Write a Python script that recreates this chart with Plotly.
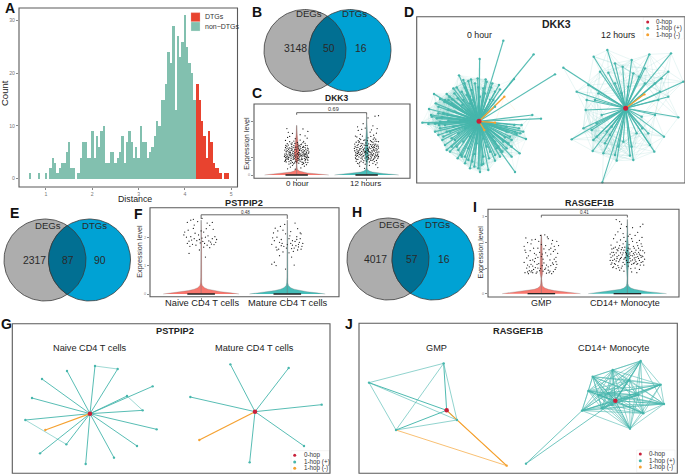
import numpy as np
import plotly.graph_objects as go

W, H = 685, 474
FONT = "Liberation Sans"
TEAL, RED, ORANGE = "#46B6AC", "#C8203A", "#F5A130"
SALMON, VTEAL = "#F8766D", "#45BDB8"

# ---------- Panel A data ----------
green_x = [0.65,0.85,1.0,1.1,1.15,1.2,1.25,1.3,1.35,1.4,1.45,1.5,1.55,1.6,1.7,1.75,1.8,1.85,1.9,1.95,2.0,2.05,2.1,2.15,2.2,2.25,2.3,2.35,2.4,2.45,2.5,2.55,2.6,2.65,2.7,2.75,2.8,2.85,2.9,2.95,3.0,3.05,3.1,3.15,3.2,3.25,3.3,3.35,3.4,3.45,3.5,3.55,3.6,3.65,3.7,3.75,3.8,3.85,3.9,3.95,4.0,4.05,4.1,4.15,4.2,4.25]
green_y = [1,1,1,2,4,3,1,2,3,3,5,7,2,2,1,4,7,7,4,4,9,4,8,6,9,10,3,3,5,5,3,4,5,8,3,7,9,7,4,6,4,10,7,7,4,5,6,8,11,10,15,15,18,24,22,29,13,27,23,26,31,25,22,20,15,15]
red_x = [4.27,4.32,4.37,4.42,4.47,4.52,4.57,4.62,4.67,4.72,4.77,4.87,4.92]
red_y = [18,15,11,8,4,9,7,3,2,2,1,1,1]

# ---------- Venn data ----------
venn_B = ["DEGs","DTGs","3148","50","16"]
venn_E = ["DEGs","DTGs","2317","87","90"]
venn_H = ["DEGs","DTGs","4017","57","16"]

# ---------- Violin data: y levels and half widths ----------
vio_y = [0,0.04,0.08,0.12,0.17,0.22,0.3,0.4,0.6]
vio_w = [1.0,0.78,0.52,0.33,0.18,0.09,0.03,0.015,0.008]
C0_top_y = [0.6,0.9,1.2,1.5,1.9,2.3,2.8]
C0_top_w = [0.008,0.025,0.035,0.028,0.016,0.008,0.002]
C1_top_y = [0.6,0.9,1.3,1.6,2.0,2.6,3.4]
C1_top_w = [0.008,0.018,0.027,0.02,0.01,0.004,0.001]
F_top_y = [0.3,1.0,1.9,2.6]
F_top_w = [0.003,0.003,0.005,0.001]
I0_top_y = [0.45,0.8,1.2,1.8,2.3]
I0_top_w = [0.004,0.015,0.015,0.01,0.002]
I1_top_y = [0.45,0.9,1.4,1.7,2.2,2.9]
I1_top_w = [0.003,0.008,0.02,0.018,0.006,0.001]

C0_pts = [(-.12,1.31),(.03,.92),(.15,1.12),(-.05,1.55),(.09,.71),(-.16,.98),(.01,1.21),(-.09,.83),(.13,1.46),(-.02,2.05),(.06,1.71),(-.14,1.62),(.11,.94),(-.07,1.14),(.16,1.38),(-.11,.62),(.04,1.02),(-.03,1.42),(.08,1.29),(-.15,1.24),(.12,.81),(-.06,.71),(.02,1.63),(-.1,1.88),(.14,.58),(-.01,.86),(.07,1.09),(-.13,1.07),(.1,1.58),(-.04,1.19),(.05,.78),(-.08,1.49),(.17,.99),(-.17,1.41),(.0,1.35),(.09,1.17),(-.12,.88),(.03,.67),(-.05,.97),(.12,1.22),(-.15,.74),(.06,1.51),(-.02,.77),(.15,1.66),(-.09,1.26),(.01,1.84),(-.07,1.72),(.11,1.37),(-.14,1.15),(.04,1.25),(-.11,1.01),(.08,.89),(-.03,1.08),(.13,1.04),(-.16,.82),(.02,1.47),(-.06,.55),(.1,.65),(-.1,1.53),(.05,1.97),(-.13,2.12),(.16,.84),(-.01,1.13),(.07,.96),(-.04,1.66),(.14,1.27),(-.08,.93),(.03,1.11),(-.12,1.69),(.09,1.43),(-.17,1.18),(.12,1.79),(-.05,1.33),(.0,.74),(.06,1.19),(-.15,1.48),(.11,1.06),(-.02,1.57),(.17,1.23),(-.09,1.1),(.04,1.39),(-.11,.76),(.08,.6),(-.07,1.39),(.15,.9),(-.14,.91),(.01,1.03),(.1,1.31),(-.03,.68),(-.1,1.28),(.13,.72),(.05,1.6),(-.06,1.23),(.02,.82),(-.16,1.56),(.07,1.75),(-.08,1.03),(.14,1.0),(-.12,2.41),(.16,2.46),(-.14,2.62),(.12,2.21),(-.06,2.35),(.09,2.6),(-.1,2.18),(.15,2.08),(-.16,1.95),(.05,2.28),(-.04,1.92),(.1,1.9),(.13,1.15),(-.09,.45),(.06,.4),(-.02,.33),(.11,.5),(-.13,.35),(.03,1.52),(-.07,1.6),(.08,1.07),(-.11,1.2),(.02,1.16),(-.05,.88),(.16,.7),(-.15,1.33),(.12,1.55),(-.01,1.45),(.09,1.83),(-.17,.77),(.04,.86),(-.08,1.76)]
C0_extra = [(-.135,1.38),(.025,1.28),(.155,1.02),(-.045,1.03),(.095,1.24),(-.165,1.1),(.015,.94),(-.095,1.36),(.125,.88),(-.025,1.27),(.065,1.37),(-.145,1.02),(.115,1.17),(-.075,.8),(.165,1.47),(-.115,1.45),(.045,1.44),(-.035,.92),(.085,1.56),(-.155,.87),(.135,1.35),(-.065,1.46),(.005,1.58),(-.105,1.13),(.145,1.2),(-.015,1.01),(.075,.73),(-.125,.96),(.105,1.09),(-.055,1.1),(.055,1.08),(-.085,1.18),(.175,1.3),(-.175,1.05),(.035,1.67),(-.125,1.52),(.095,1.62),(-.045,.63),(.155,1.52),(-.155,1.67),(.015,1.75),(-.085,.67),(.125,1.68),(-.025,1.78),(.065,.87),(-.115,.98),(.135,.97),(-.065,1.82),(.045,1.17),(-.135,1.77)]
C1_pts = [(-.13,1.22),(.07,1.61),(.02,.88),(-.05,1.42),(.14,1.08),(-.1,.72),(.11,1.35),(-.02,1.18),(.16,.93),(-.15,1.55),(.05,1.27),(-.08,.95),(.09,.66),(-.12,1.72),(.01,1.5),(.13,1.74),(-.04,.81),(.06,1.04),(-.16,1.12),(.1,1.46),(-.07,1.33),(.03,1.12),(.15,1.28),(-.11,1.02),(-.01,1.67),(.08,.84),(-.14,.87),(.12,.98),(-.06,1.58),(.04,.74),(-.09,1.25),(.17,1.52),(-.17,1.37),(.0,1.02),(.1,1.21),(-.03,1.29),(.07,1.88),(-.12,1.94),(.14,1.63),(-.05,1.07),(.02,1.39),(-.1,1.48),(.11,.76),(-.15,.77),(.05,.91),(-.08,1.79),(.09,1.13),(.16,1.18),(-.02,.61),(-.13,1.11),(.03,1.76),(.12,1.41),(-.06,.9),(.06,1.49),(-.11,.63),(.15,.69),(.01,1.23),(-.04,1.95),(.08,1.3),(-.16,.97),(.13,2.02),(-.09,1.62),(.04,1.58),(-.14,1.44),(.1,.87),(-.07,1.16),(.17,1.05),(-.01,1.81),(.07,.97),(-.12,1.3),(.02,2.1),(.14,.82),(-.05,.7),(.11,1.56),(-.1,2.05),(.05,1.14),(-.15,1.85),(.09,1.85),(-.03,1.52),(.16,1.69),(-.08,.78),(.03,1.33),(.12,1.92),(-.13,.66),(.0,.79),(.06,2.18),(-.11,1.38),(.15,1.45),(-.06,2.2),(.08,1.7),(-.17,1.75),(.1,2.25),(-.04,1.1),(.13,.58),(-.14,2.15),(.01,1.94),(.17,1.88),(-.09,2.3),(.05,2.42),(-.12,2.52),(.14,2.36),(-.16,2.2),(.07,2.55),(-.02,2.65),(.11,2.1),(-.07,2.58),(.04,.55),(-.1,.5),(.16,.42),(-.03,.38),(.09,2.78),(-.13,2.72),(.12,3.32),(.17,3.35),(.02,3.22),(-.05,2.9),(.15,2.62),(-.01,1.26),(.06,.82),(-.08,1.49),(.13,1.25),(-.15,1.2),(.03,.95),(.1,1.59),(-.11,1.83),(.08,1.09),(-.04,1.36),(.01,1.66)]
C1_extra = [(-.125,1.56),(.075,1.17),(.025,1.44),(-.055,1.24),(.145,1.36),(-.105,1.16),(.115,1.04),(-.025,.96),(.165,1.6),(-.155,.93),(.055,1.72),(-.085,1.12),(.095,1.41),(-.115,1.26),(.015,1.07),(.135,1.5),(-.045,1.46),(.065,1.24),(-.165,1.62),(.105,.94),(-.075,1.68),(.035,1.52),(.155,1.13),(-.135,1.35),(-.015,1.33),(.085,1.55),(-.145,1.06),(.125,1.13),(-.065,1.02),(.045,1.3),(-.095,1.42),(.175,1.3),(-.175,1.5),(.005,1.41),(.105,1.74),(-.035,1.69),(.075,1.38),(-.125,.88),(.145,1.9),(-.055,1.77),(.025,.99),(-.105,1.88),(.115,1.66),(-.155,1.28),(.055,1.94),(-.085,2.0),(.095,2.02),(.165,1.02),(-.025,1.99),(-.135,1.68)]
F0_pts = [(-.16,1.78),(-.12,2.02),(-.08,1.95),(-.05,1.88),(-.02,1.92),(.02,1.85),(.05,2.0),(.09,1.87),(.13,1.95),(.16,2.02),(-.19,2.18),(-.14,1.86),(-.1,1.75),(-.06,1.72),(-.03,2.08),(.01,1.97),(.04,1.78),(.07,1.72),(.11,1.83),(.15,1.74),(-.2,2.08),(-.17,2.0),(-.11,1.9),(-.07,2.14),(-.01,1.8),(.03,2.18),(.08,2.05),(.12,1.76),(.18,1.92),(-.15,2.25),(-.09,2.31),(.06,2.3),(.14,2.28),(-.13,1.68),(.0,2.22),(.1,1.63),(.17,1.82),(-.12,2.6),(-.09,2.63),(-.04,2.55),(-.16,2.52),(.01,2.66),(.07,2.5),(.13,2.52),(-.08,2.43),(.1,2.42),(-.14,1.43),(.05,1.3),(-.02,1.55),(.03,1.65)]
F1_pts = [(-.16,2.15),(-.12,2.0),(-.09,1.82),(-.04,1.68),(.02,1.95),(.06,1.72),(.09,1.85),(.13,1.75),(.17,1.68),(-.18,1.75),(-.13,1.65),(-.07,1.92),(-.01,1.62),(.04,1.78),(.08,1.62),(.11,1.92),(.15,1.95),(-.15,1.88),(-.1,1.58),(-.05,2.25),(.0,1.74),(.05,1.6),(.1,1.7),(.14,1.82),(.16,2.12),(-.17,1.98),(-.11,2.22),(-.06,1.78),(.03,2.05),(.07,1.5),(.12,1.55),(-.14,2.32),(-.08,2.38),(-.02,2.12),(.09,2.5),(.12,2.3),(.15,2.15),(-.12,1.55),(-.03,2.45),(.04,2.2),(-.18,1.05),(-.15,1.12),(-.13,1.0),(-.02,.88),(.08,1.02),(-.09,1.35),(.05,1.3),(.02,1.45),(-.05,1.48),(.16,1.58),(.18,1.78),(.11,2.02),(-.07,1.7),(.06,1.88),(.13,1.66)]
I0_pts = [(-.2,1.85),(-.17,1.4),(-.14,1.05),(-.11,.9),(-.08,1.25),(-.05,.85),(-.02,1.62),(.01,1.1),(.04,.95),(.07,1.48),(.1,.88),(.13,1.2),(.16,1.72),(.19,1.58),(-.19,.82),(-.16,1.12),(-.13,1.68),(-.1,1.32),(-.07,1.02),(-.04,1.78),(-.01,.98),(.02,1.35),(.05,1.88),(.08,1.05),(.11,1.55),(.14,.86),(.17,1.02),(-.18,1.62),(-.15,.78),(-.12,1.95),(-.09,.95),(-.06,1.52),(-.03,1.18),(.0,1.92),(.03,1.2),(.06,.8),(.09,1.72),(.12,1.95),(.15,1.35),(.18,2.05),(-.2,1.22),(-.16,2.0),(-.13,1.3),(-.1,1.08),(-.07,2.12),(-.04,1.42),(-.01,2.28),(.02,.88),(.05,1.6),(.08,2.15),(.11,1.1),(.14,1.65),(.17,1.42),(.2,1.88),(-.18,2.18),(-.15,1.48),(-.12,.85),(-.09,1.78),(-.05,1.15),(-.03,2.05),(.03,1.75),(.07,2.22),(.1,1.32),(.13,2.08),(.16,.95),(-.17,1.0),(-.11,2.1),(-.06,.8),(.0,1.45),(.06,1.12),(.12,.78),(.18,1.15),(-.14,.9),(-.08,1.58),(.04,2.3),(.09,.82),(.15,1.85),(-.19,1.7),(-.02,.9),(.01,1.55),(-.12,1.15),(.11,1.78),(-.16,.85),(.05,1.0),(-.1,.82),(.14,1.15),(-.04,1.0),(.08,.92),(.17,1.25),(-.07,1.38)]
I1_pts = [(-.19,1.42),(-.16,1.62),(-.13,1.28),(-.1,1.5),(-.07,1.72),(-.04,1.35),(-.01,1.58),(.02,1.22),(.05,1.65),(.08,1.4),(.11,1.55),(.14,1.3),(.17,1.48),(.2,1.6),(-.18,1.75),(-.15,1.18),(-.12,1.45),(-.09,1.88),(-.06,1.52),(-.03,1.15),(.0,1.48),(.03,1.75),(.06,1.32),(.09,1.62),(.12,1.18),(.15,1.7),(.18,1.25),(-.2,1.55),(-.17,1.3),(-.14,1.82),(-.11,1.1),(-.08,1.38),(-.05,1.95),(-.02,1.42),(.01,1.08),(.04,1.5),(.07,1.85),(.1,1.25),(.13,1.78),(.16,1.42),(.19,1.12),(-.19,1.9),(-.16,1.05),(-.13,1.6),(-.1,1.25),(-.07,1.42),(-.04,1.7),(-.01,1.3),(.02,1.92),(.05,1.15),(.08,1.52),(.11,2.0),(.14,1.55),(.17,1.85),(-.18,1.2),(-.15,1.52),(-.12,2.02),(-.09,1.32),(-.06,1.08),(-.03,1.82),(.0,1.22),(.03,1.38),(.06,2.05),(.09,1.0),(.12,1.45),(.15,1.12),(.18,1.68),(-.17,1.48),(-.14,1.15),(-.11,1.68),(-.08,2.1),(-.05,1.22),(-.02,1.62),(.01,1.78),(.04,.98),(.07,1.58),(.1,1.7),(.13,1.38),(.16,1.95),(-.2,1.3),(-.16,2.15),(-.13,.98),(-.1,1.78),(-.07,1.0),(-.04,2.2),(-.01,1.52),(.02,1.45),(.05,2.15),(.08,1.78),(.11,1.15),(.14,2.08),(.18,1.45),(-.18,1.62),(-.15,1.35),(-.12,1.72),(-.09,.92),(-.05,1.6),(-.02,2.05),(.03,1.6),(.06,1.48),(.1,1.42),(.13,1.62),(.16,1.22),(.2,1.35),(-.19,1.15),(-.14,2.3),(-.11,2.42),(-.08,2.55),(-.05,2.35),(-.01,2.62),(.03,2.32),(.06,2.58),(.09,2.28),(.12,2.4),(.15,2.62),(.18,2.72),(.17,2.2),(-.07,2.72),(-.09,2.82),(-.13,2.9),(.01,2.25),(-.16,1.78),(-.03,1.4),(.04,1.28),(.07,1.18),(.12,1.88),(-.06,1.8),(.0,1.68),(-.1,1.02),(.09,1.32),(.14,.95),(-.17,1.02),(.05,.85),(-.04,.88),(.11,.82),(-.12,1.38),(.02,1.55),(.15,1.5),(-.08,1.6),(.08,1.2)]

# ---------- Network data (positions read in crop units) ----------
D0_hub = (192, 364)
D0_x = [265,356,420,194,132,297,252,160,57,42,95,75,22,40,60,352,378,275,333,316,314,300,220,195,172,150,90,120,105,65,85,128,110,150,180,215,240,305,280,255,240,180,130,145,70,50,100,118,140,170,205,228,145,120,90,75,110,125,160,185,205,225,250,270,290,300,275,240,225,195,165,140,135,150,165,205,235,255,100,85,115,130,155,160,175,210,220,240,160,138,200,262,290,62,80,112,155,190,
        70,88,103,125,148,168,188,212,232,255,100,115,70,320,298,285,265,245,222,205,178,150,128,105,82,60,48,75,98,120,142,165,210,235,90,145,95,312,325,260,275,290,240,215,190,165,140,110,95,72]
D0_y = [122,163,223,177,226,237,255,243,282,327,282,297,368,372,371,345,356,380,417,400,460,516,510,516,485,470,435,420,395,355,340,295,310,262,250,245,275,402,430,470,482,462,450,425,320,350,362,280,275,270,265,262,300,335,375,385,415,440,445,430,470,455,440,412,420,395,395,320,300,290,310,330,360,385,410,415,410,385,330,410,380,400,350,330,300,330,390,425,480,465,495,455,440,310,352,298,285,262,
        340,305,290,262,250,238,235,238,250,268,300,265,405,375,375,410,425,445,475,492,500,490,475,455,420,395,345,365,345,320,315,290,280,300,300,240,450,385,395,455,445,470,465,440,505,505,470,440,395,375]
D0_neg_x = [268,240,208]
D0_neg_y = [290,368,390]
D1_hub = (632, 325)
D1_x = [445,536,577,623,703,768,805,790,747,718,682,645,605,562,533,470,485,512,520,580,690,740,730,720,570,565,585,650,700,545,590,505,640,655,600,720,560,550,665,610,625,760,530,672,535,
        555,600,650,690,735,760,545,515,600,655,705,680,620,575,540]
D1_y = [203,170,150,200,163,160,245,352,410,455,385,467,482,547,453,418,275,330,255,218,205,235,300,345,430,460,405,440,400,410,380,385,260,220,250,250,345,280,400,440,425,215,390,230,420,
        215,190,180,250,275,290,370,300,465,480,435,350,280,395,300]
D1_neg_x = [688]
D1_neg_y = [283]

G0_hub = (270, 311)
G0_x = [285,353,201,126,96,76,120,257,342,411,470,428,458,381,199]
G0_y = [168,177,183,207,264,330,430,462,443,408,358,301,229,258,403]
G0_neg_x = [136]
G0_neg_y = [360]
G0_links = [(0,1),(13,11),(5,14)]
G1_hub = (765, 305)
G1_x = [691,866,571,965,912,749]
G1_y = [163,174,261,284,408,457]
G1_neg_x = [598]
G1_neg_y = [390]

J0_hub = (305, 301)
J0_x = [296,72,153,336]
J0_y = [160,218,360,330]
J0_neg_x = [485]
J0_neg_y = [467]
J0_links = [(0,1),(0,2),(0,3),(1,3),(1,2),(2,3)]
J1_hub = (811, 272)
J1_x = [887,803,743,947,853,730,790,880,957,711,800,895,855,760,770]
J1_y = [153,180,200,224,210,243,250,255,282,302,285,310,356,255,295]
J1_far_x = [543]
J1_far_y = [461]

legend_labels = ["0-hop", "1-hop (+)", "1-hop (-)"]
legend_colors = [RED, TEAL, ORANGE]

fig = go.Figure()
layout = {}
shapes, annos = [], []
_ax = [0]


def axes(box, xr, yr, vis=True, **kw):
    _ax[0] += 1
    i = _ax[0]
    x0, y0, x1, y1 = box
    tick = dict(showgrid=False, zeroline=False, visible=vis, ticks="outside", ticklen=2,
                tickcolor="#888", tickwidth=0.6, showline=False, fixedrange=True)
    layout[f"xaxis{i}"] = dict(domain=[x0 / W, x1 / W], range=xr, anchor=f"y{i}", **tick)
    layout[f"yaxis{i}"] = dict(domain=[1 - y1 / H, 1 - y0 / H], range=yr, anchor=f"x{i}", **tick)
    return f"x{i}", f"y{i}", i


def text(px, py, s, size=8, color="#222", bold=False, angle=0, xanchor="center"):
    annos.append(dict(x=px / W, y=1 - py / H, xref="paper", yref="paper", showarrow=False,
                      text=f"<b>{s}</b>" if bold else s, textangle=angle, xanchor=xanchor,
                      yanchor="middle", font=dict(size=size, color=color, family=FONT)))


def frame(x0, y0, x1, y1):
    shapes.append(dict(type="rect", xref="paper", yref="paper", x0=x0 / W, x1=x1 / W,
                       y0=1 - y1 / H, y1=1 - y0 / H, line=dict(color="#5A5A5A", width=1.1)))


def segs(pairs):
    xs, ys = [], []
    for (a, b), (c, d) in pairs:
        xs += [a, c, None]
        ys += [b, d, None]
    return xs, ys


def lines(pairs, xa, ya, color, width):
    xs, ys = segs(pairs)
    fig.add_trace(go.Scatter(x=xs, y=ys, xaxis=xa, yaxis=ya, mode="lines",
                             line=dict(color=color, width=width), hoverinfo="skip"))


def nodes(xs, ys, xa, ya, color, size):
    fig.add_trace(go.Scatter(x=list(xs), y=list(ys), xaxis=xa, yaxis=ya, mode="markers",
                             marker=dict(color=color, size=size, line=dict(width=0)), hoverinfo="skip"))


def near_links(xs, ys, limit):
    """Pairs of nearby nodes, for the faint mesh behind dense networks."""
    out = []
    for i in range(len(xs)):
        for j in range(i + 1, len(xs)):
            if (xs[i] - xs[j]) ** 2 + (ys[i] - ys[j]) ** 2 < limit ** 2:
                out.append(((xs[i], ys[i]), (xs[j], ys[j])))
    return out


# ---------- A histogram ----------
xa, ya, ai = axes((19, 8, 237.5, 187), [0.417, 5.136], [-1.6, 32.4])
layout[f"xaxis{ai}"].update(tickvals=[1, 2, 3, 4, 5], tickfont=dict(size=5.2, color="#777", family=FONT))
layout[f"yaxis{ai}"].update(tickvals=[0, 10, 20, 30], tickfont=dict(size=5.2, color="#777", family=FONT))
fig.add_trace(go.Bar(x=green_x, y=green_y, width=0.052, xaxis=xa, yaxis=ya, hoverinfo="skip",
                     marker=dict(color="#82C0AF", line=dict(width=0))))
fig.add_trace(go.Bar(x=red_x, y=red_y, width=0.052, xaxis=xa, yaxis=ya, hoverinfo="skip",
                     marker=dict(color="#E8432F", line=dict(width=0))))
frame(19, 8, 237.5, 187)
text(135, 199, "Distance", 8.8)
text(5, 93, "Count", 9.5, angle=-90)


# ---------- violin panels ----------
def violin(box, xr, yr, yticks, cats, groups, bracket, ptext, title, tpos, ylab, base):
    xa, ya, ai = axes(box, xr, yr)
    layout[f"xaxis{ai}"].update(tickvals=[1, 2], ticktext=[" ", " "], tickcolor="#888")
    layout[f"yaxis{ai}"].update(tickvals=yticks, tickfont=dict(size=3.8, color="#888", family=FONT))
    for c, (col, top_y, top_w, pts) in enumerate(groups, start=1):
        yy = np.array(vio_y + top_y[1:])
        ww = np.array(vio_w) * base
        ww = np.r_[ww, top_w[1:]]
        fig.add_trace(go.Scatter(x=np.r_[c - ww, (c + ww)[::-1]], y=np.r_[yy, yy[::-1]], xaxis=xa, yaxis=ya,
                                 mode="lines", fill="toself", fillcolor=col, hoverinfo="skip",
                                 line=dict(color="#777", width=0.3)))
        fig.add_trace(go.Scatter(x=[c, c], y=[0, top_y[-1]], xaxis=xa, yaxis=ya, mode="lines",
                                 line=dict(color="#777", width=0.5), hoverinfo="skip"))
        p = np.array(pts)
        nodes(c + p[:, 0], p[:, 1], xa, ya, "#1c1c1c", 1.25)
        fig.add_trace(go.Scatter(x=[c - 0.16, c + 0.16], y=[0, 0], xaxis=xa, yaxis=ya, mode="lines",
                                 line=dict(color="#222", width=1.3), hoverinfo="skip"))
    fig.add_trace(go.Scatter(x=[1, 1, 2, 2], y=[bracket[0], bracket[1], bracket[1], bracket[0]], xaxis=xa, yaxis=ya,
                             mode="lines", line=dict(color="#555", width=0.9), hoverinfo="skip"))
    frame(*box)
    text(ptext[0], ptext[1], ptext[2], ptext[3], "#333")
    text(tpos[0], tpos[1], title, tpos[2], bold=True)
    text(ylab[0], ylab[1], "Expression level", 7.2, "#333", angle=-90)
    for pos, lab in cats:
        text(pos[0], pos[1], lab, pos[2], "#222")


violin((254, 104, 410, 178.3), [0.39, 2.62], [-0.186, 4.01], [0, 1, 2, 3],
       [((297, 184, 8), "0 hour"), ((366, 184, 8), "12 hours")],
       [(SALMON, C0_top_y, C0_top_w, C0_pts + C0_extra), (VTEAL, C1_top_y, C1_top_w, C1_pts + C1_extra)],
       (3.4, 3.52), (333.3, 109, "0.69", 5.5), "DKK3", (336, 98, 8.5), (245.7, 143), 0.46)
violin((150, 207.7, 339, 296.7), [0.407, 2.6], [-0.095, 3.04], [0, 1, 2],
       [((201.7, 303, 9.3), "Naive CD4 T cells"), ((287.7, 303, 9.3), "Mature CD4 T cells")],
       [(SALMON, F_top_y, F_top_w, F0_pts), (VTEAL, F_top_y, F_top_w, F1_pts)],
       (2.65, 2.79), (245.7, 212.6, "0.48", 4.5), "PSTPIP2", (244, 203.5, 9.2), (140, 251.7), 0.44)
violin((488, 209.3, 679, 297), [0.38, 2.6], [-0.13, 3.3], [0, 1, 2, 3],
       [((541.7, 303, 9), "GMP"), ((625, 303, 9), "CD14+ Monocyte")],
       [(SALMON, I0_top_y, I0_top_w, I0_pts), (VTEAL, I1_top_y, I1_top_w, I1_pts)],
       (2.98, 3.07), (584, 212.3, "0.41", 4.5), "RASGEF1B", (590.3, 203.5, 9), (480.7, 251.7), 0.456)


# ---------- D, G, J networks ----------
def spokes(hub, xs, ys):
    return [(hub, (x, y)) for x, y in zip(xs, ys)]


xa, ya, _ = axes((415, 0, 685, 190), [0, 810], [570, 0], vis=False)
lines(near_links(D0_x, D0_y, 60), xa, ya, "rgba(70,182,172,0.2)", 0.4)
lines(near_links(D1_x, D1_y, 95), xa, ya, "rgba(70,182,172,0.30)", 0.4)
lines([((268, 290), (300, 330)), ((240, 368), (268, 290)), ((208, 390), (240, 368)), ((688, 283), (740, 340)), ((688, 283), (650, 240))],
      xa, ya, "rgba(245,161,48,0.25)", 0.4)
lines(spokes(D0_hub, D0_x, D0_y), xa, ya, "rgba(70,182,172,0.9)", 1.2)
lines(spokes(D1_hub, D1_x, D1_y), xa, ya, "rgba(70,182,172,0.9)", 1.1)
lines(spokes(D0_hub, D0_neg_x, D0_neg_y) + spokes(D1_hub, D1_neg_x, D1_neg_y), xa, ya, ORANGE, 1.3)
nodes(D0_x + D1_x, D0_y + D1_y, xa, ya, TEAL, 2.4)
nodes(D0_neg_x + D1_neg_x, D0_neg_y + D1_neg_y, xa, ya, ORANGE, 2.4)
nodes([D0_hub[0], D1_hub[0]], [D0_hub[1], D1_hub[1]], xa, ya, RED, 5)
frame(416.7, 16.7, 685, 183)
text(556, 24.5, "DKK3", 10.5, bold=True)
text(479, 34.7, "0 hour", 8.8, "#222")
text(618, 34.7, "12 hours", 8.8, "#222")

xa, ya, _ = axes((0, 310, 345, 474), [0, 1035], [492, 0], vis=False)
g0 = list(zip(G0_x, G0_y))
lines([(g0[a], g0[b]) for a, b in G0_links], xa, ya, "rgba(70,182,172,0.75)", 0.7)
lines(spokes(G0_hub, G0_x, G0_y) + spokes(G1_hub, G1_x, G1_y), xa, ya, "rgba(70,182,172,0.9)", 1.0)
lines(spokes(G0_hub, G0_neg_x, G0_neg_y) + spokes(G1_hub, G1_neg_x, G1_neg_y), xa, ya, ORANGE, 1.2)
nodes(G0_x + G1_x, G0_y + G1_y, xa, ya, TEAL, 2.4)
nodes(G0_neg_x + G1_neg_x, G0_neg_y + G1_neg_y, xa, ya, ORANGE, 2.4)
nodes([G0_hub[0], G1_hub[0]], [G0_hub[1], G1_hub[1]], xa, ya, RED, 4.5)
frame(12.3, 323.7, 330, 473.3)
text(175, 331, "PSTPIP2", 9.2, bold=True)
text(90, 347.7, "Naive CD4 T cells", 9.2, "#222")
text(254, 347.7, "Mature CD4 T cells", 9.2, "#222")

xa, ya, _ = axes((345, 310, 685, 474), [0, 1020], [492, 0], vis=False)
j0 = list(zip(J0_x, J0_y))
j1 = list(zip(J1_x, J1_y))
lines([(j0[a], j0[b]) for a, b in J0_links], xa, ya, "rgba(70,182,172,0.75)", 0.8)
lines(spokes(J0_hub, J0_x, J0_y), xa, ya, "rgba(70,182,172,0.95)", 1.0)
lines([(j1[a], j1[b]) for a in range(len(j1)) for b in range(a + 1, len(j1))], xa, ya, "rgba(70,182,172,0.7)", 0.8)
lines(spokes(J1_hub, J1_x, J1_y), xa, ya, "rgba(70,182,172,0.9)", 1.0)
lines([((J1_far_x[0], J1_far_y[0]), j1[9]), ((J1_far_x[0], J1_far_y[0]), J1_hub)], xa, ya, "rgba(70,182,172,0.85)", 0.9)
lines(spokes(J0_hub, J0_neg_x, J0_neg_y), xa, ya, ORANGE, 1.2)
lines([(j0[2], (J0_neg_x[0], J0_neg_y[0])), (j0[3], (J0_neg_x[0], J0_neg_y[0]))], xa, ya, "rgba(245,161,48,0.85)", 0.8)
nodes(J0_x + J1_x + J1_far_x, J0_y + J1_y + J1_far_y, xa, ya, TEAL, 2.4)
nodes(J0_neg_x, J0_neg_y, xa, ya, ORANGE, 2.4)
nodes([J0_hub[0], J1_hub[0]], [J0_hub[1], J1_hub[1]], xa, ya, RED, 4.5)
frame(359, 323.3, 677.3, 473.3)
text(518.3, 331, "RASGEF1B", 9.2, bold=True)
text(436.7, 347.7, "GMP", 9.2, "#222")
text(613.3, 347.7, "CD14+ Monocyte", 9.2, "#222")

# ---------- canvas layer: Venns and keys ----------
xa, ya, _ = axes((0, 0, W, H), [0, W], [H, 0], vis=False)
DARK = "#3A3A3A"


def circle(cx, cy, r):
    t = np.linspace(0, 2 * np.pi, 160)
    return cx + r * np.cos(t), cy + r * np.sin(t)


def poly(x, y, fill, line=DARK, lw=0.8):
    fig.add_trace(go.Scatter(x=list(x), y=list(y), xaxis=xa, yaxis=ya, mode="lines", fill="toself", fillcolor=fill,
                             line=dict(color=line, width=lw), hoverinfo="skip"))


def venn(c1, c2, cy, r, labels, pos):
    poly(*circle(c1, cy, r), "#ADADAD")
    poly(*circle(c2, cy, r), "#00A2D4")
    half = np.arccos((c2 - c1) / 2 / r)
    t1 = np.linspace(-half, half, 60)
    t2 = np.linspace(np.pi - half, np.pi + half, 60)
    poly(np.r_[c1 + r * np.cos(t1), c2 + r * np.cos(t2)], np.r_[cy + r * np.sin(t1), cy + r * np.sin(t2)], "#016F92")
    for (px, py), lab in zip(pos, labels):
        text(px, py, lab, 9.6 if lab.startswith("D") else 10.4, "#2a2a2a")


venn(305, 350, 50.5, 41, venn_B, [(309, 14), (354, 14), (295, 49), (329.3, 49), (360.7, 49)])
venn(45, 89.5, 260, 41, venn_E, [(48, 226), (94, 226), (34, 260.7), (68, 260.7), (100, 260.7)])
venn(388, 433, 259, 41, venn_H, [(391.7, 224.3), (437.7, 224.3), (375.7, 259), (412, 259), (443.7, 259)])


def net_key(x0, y0, x1, y1, dotx, textx, ys, size):
    poly([x0, x1, x1, x0, x0], [y0, y0, y1, y1, y0], "white", "#E4E4E4", 0.4)
    for yy, lab, col in zip(ys, legend_labels, legend_colors):
        nodes([dotx], [yy], xa, ya, col, 3)
        text(textx, yy, lab, size, "#333", xanchor="left")


net_key(643.3, 17.3, 683.5, 39, 647.7, 654.3, [22, 28.3, 34.7], 6.3)
net_key(291, 450.7, 329.5, 473, 294.7, 301.7, [455.3, 462, 468.3], 6.3)
net_key(636.7, 450, 675, 472.5, 640.3, 647, [454, 460.7, 467], 6.3)

poly([191, 200, 200, 191, 191], [12.7, 12.7, 21.7, 21.7, 12.7], "#E8432F", "#F0A79E", 0.3)
poly([191, 200, 200, 191, 191], [22, 22, 31, 31, 22], "#82C0AF", "#D8EDE7", 0.3)
text(202.5, 16.7, "DTGs", 7, "#333", xanchor="left")
text(202.5, 26.3, "non−DTGs", 7, "#333", xanchor="left")

for lab, px, py in [("A", 10, 8), ("B", 257, 12), ("C", 257, 93), ("D", 409, 12), ("E", 14, 213), ("F", 138, 213.5),
                    ("G", 6, 324), ("H", 356.5, 212), ("I", 474.5, 207), ("J", 348.5, 324)]:
    text(px, py, lab, 14, "#111", bold=True)

fig.update_layout(width=W, height=H, margin=dict(l=0, r=0, t=0, b=0), paper_bgcolor="white", plot_bgcolor="rgba(0,0,0,0)",
                  showlegend=False, barmode="overlay", bargap=0, shapes=shapes, annotations=annos,
                  font=dict(family=FONT), **layout)
fig.write_html("out.html", config=dict(displayModeBar=False),
               post_script="document.body.style.margin='0';document.documentElement.style.overflow='hidden';")
